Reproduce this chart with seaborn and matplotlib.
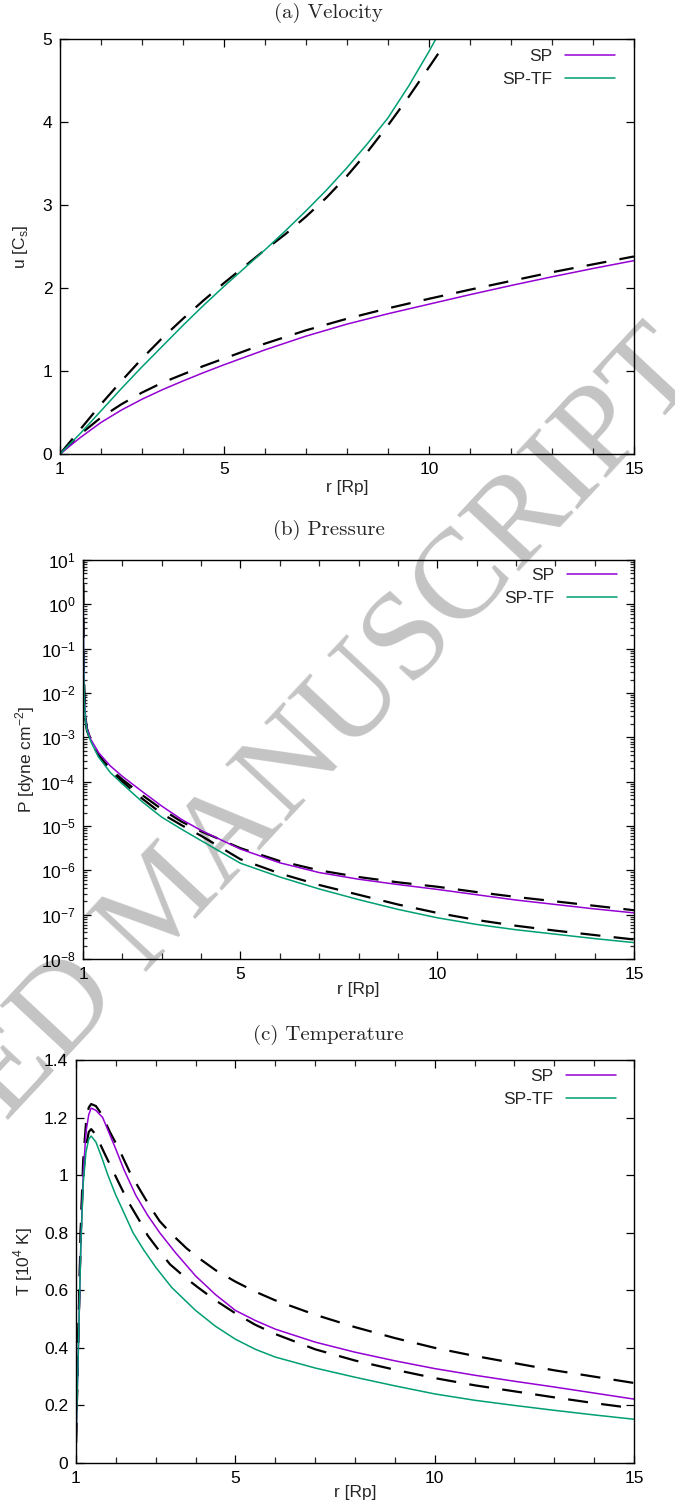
import numpy as np
import pandas as pd
import matplotlib
matplotlib.use("Agg")
import matplotlib.pyplot as plt
import matplotlib.ticker as mticker
import seaborn as sns

# ---- data ----
# (a) velocity u [Cs] vs r [Rp]
r_vel_sp = [1, 1.5, 2, 2.5, 3, 3.5, 4, 4.5, 5, 6, 7, 8, 9, 10, 11, 12, 13, 14, 15]
u_sp = [0, 0.2, 0.38, 0.53, 0.66, 0.775, 0.88, 0.98, 1.075, 1.255, 1.42, 1.565, 1.69, 1.805, 1.92, 2.03,
        2.135, 2.235, 2.33]
u_sp_ref = [0, 0.24, 0.44, 0.6, 0.74, 0.86, 0.96, 1.06, 1.15, 1.33, 1.49, 1.63, 1.755, 1.87, 1.98, 2.085,
            2.19, 2.285, 2.38]
r_vel_tf = [1, 1.5, 2, 2.5, 3, 3.5, 4, 4.5, 5, 5.5, 6, 6.5, 7, 7.5, 8, 8.5, 9, 9.5, 10, 10.5]
u_tf = [0, 0.25, 0.52, 0.79, 1.05, 1.3, 1.55, 1.79, 2.02, 2.24, 2.46, 2.69, 2.93, 3.18, 3.45, 3.74,
        4.05, 4.43, 4.85, 5.3]
r_vel_tf_ref = [1, 1.5, 2, 2.5, 3, 3.5, 4, 4.5, 5, 5.5, 6, 6.5, 7, 7.5, 8, 8.5, 9, 9.5, 10, 10.4]
u_tf_ref = [0, 0.3, 0.6, 0.88, 1.15, 1.4, 1.63, 1.85, 2.06, 2.26, 2.46, 2.65, 2.86, 3.09, 3.35, 3.64,
            3.96, 4.3, 4.66, 4.95]

# (b) pressure, log10(P [dyne cm^-2])
r_pre = [1.0, 1.005, 1.01, 1.02, 1.04, 1.07, 1.1, 1.2, 1.4, 1.7, 2, 2.5, 3, 3.5, 4,
         5, 6, 7, 8, 9, 10, 11, 12, 13, 14, 15]
logp_sp = [1.2, 0.5, -0.5, -1.5, -2.2, -2.6, -2.8, -3.05, -3.35, -3.65, -3.88, -4.22, -4.55, -4.85, -5.1,
           -5.52, -5.83, -6.05, -6.2, -6.32, -6.43, -6.55, -6.67, -6.77, -6.87, -6.96]
logp_sp_ref = [1.2, 0.5, -0.5, -1.5, -2.2, -2.6, -2.8, -3.07, -3.4, -3.72, -3.95, -4.3, -4.62, -4.9, -5.12,
               -5.5, -5.79, -6.0, -6.15, -6.27, -6.37, -6.49, -6.6, -6.7, -6.8, -6.9]
logp_tf = [1.2, 0.4, -0.6, -1.6, -2.3, -2.65, -2.85, -3.1, -3.45, -3.8, -4.05, -4.45, -4.8, -5.07, -5.33,
           -5.84, -6.15, -6.42, -6.66, -6.88, -7.07, -7.22, -7.34, -7.44, -7.54, -7.63]
logp_tf_ref = [1.2, 0.4, -0.6, -1.6, -2.3, -2.65, -2.85, -3.08, -3.42, -3.75, -4.0, -4.38, -4.72, -4.98, -5.22,
               -5.75, -6.07, -6.33, -6.55, -6.77, -6.96, -7.12, -7.25, -7.36, -7.46, -7.56]

# (c) temperature T [10^4 K]
r_tem = [1.0, 1.06, 1.12, 1.18, 1.25, 1.32, 1.38, 1.5, 1.67, 1.85, 2.0, 2.2, 2.5, 2.8, 3.1, 3.5, 4.0, 4.5,
         5, 5.5, 6, 7, 8, 9, 10, 11, 12, 13, 14, 15]
t_sp = [0.07, 0.4, 0.75, 1.0, 1.15, 1.21, 1.233, 1.225, 1.2, 1.14, 1.09, 1.02, 0.93, 0.86, 0.8, 0.73, 0.65, 0.585,
        0.53, 0.495, 0.465, 0.42, 0.385, 0.355, 0.328, 0.305, 0.284, 0.264, 0.243, 0.222]
r_tem_tf = [1.0, 1.06, 1.12, 1.18, 1.25, 1.32, 1.38, 1.5, 1.65, 1.8, 2.0, 2.2, 2.43, 2.7, 3.0, 3.4, 4.0, 4.5,
            5, 5.5, 6, 7, 8, 9, 10, 11, 12, 13, 14, 15]
t_tf = [0.07, 0.4, 0.75, 0.97, 1.08, 1.125, 1.136, 1.115, 1.06, 1.0, 0.93, 0.87, 0.8, 0.74, 0.68, 0.61, 0.53, 0.475,
        0.43, 0.395, 0.368, 0.33, 0.298, 0.268, 0.24, 0.218, 0.2, 0.183, 0.167, 0.152]
r_tem_sp_ref = [1.0, 1.06, 1.12, 1.18, 1.25, 1.32, 1.38, 1.5, 1.65, 1.85, 2.08, 2.35, 2.6, 2.86, 3.1, 3.4, 3.78,
                4.1, 4.5, 5, 5.5, 6, 7, 8, 9, 10, 11, 12, 13, 14, 15]
t_sp_ref = [0.07, 0.45, 0.82, 1.05, 1.18, 1.235, 1.247, 1.24, 1.21, 1.15, 1.09, 1.01, 0.95, 0.89, 0.84, 0.795, 0.745,
            0.71, 0.67, 0.63, 0.595, 0.565, 0.515, 0.472, 0.434, 0.40, 0.372, 0.347, 0.322, 0.30, 0.278]
r_tem_tf_ref = [1.0, 1.06, 1.12, 1.18, 1.25, 1.32, 1.38, 1.5, 1.7, 2.05, 2.3, 2.6, 2.8, 3.1, 3.36, 3.78, 4.06,
                4.5, 5, 5.5, 6, 7, 8, 9, 10, 11, 12, 13, 14, 15]
t_tf_ref = [0.07, 0.45, 0.8, 1.0, 1.1, 1.15, 1.16, 1.14, 1.08, 0.98, 0.91, 0.84, 0.79, 0.735, 0.69, 0.64, 0.61,
            0.565, 0.52, 0.48, 0.448, 0.395, 0.356, 0.324, 0.295, 0.27, 0.249, 0.228, 0.208, 0.19]

x_ticks = [1, 5, 10, 15]
labels = ["SP", "SP-TF"]
titles = ["(a) Velocity", "(b) Pressure", "(c) Temperature"]

# ---- style ----
sns.set_style("ticks")
plt.rcParams["font.family"] = ["Liberation Sans", "DejaVu Sans"]
plt.rcParams["axes.unicode_minus"] = False
plt.rcParams["mathtext.fontset"] = "custom"
plt.rcParams["mathtext.rm"] = "Liberation Sans"

purple = "#9400d3"
green = "#009e73"
dash = (0, (9, 6))
fs = 12.5

W, H = 675, 1508
fig = plt.figure(figsize=(W / 100, H / 100), dpi=100)


def add_axes(left, top, right, bottom):
    return fig.add_axes([left / W, 1 - bottom / H, (right - left) / W, (bottom - top) / H])


ax_a = add_axes(60, 39, 634, 454)
ax_b = add_axes(83, 560, 634, 959)
ax_c = add_axes(76, 1060, 634, 1463)

# (a)
sns.lineplot(x=r_vel_sp, y=u_sp_ref, color="black", linewidth=1.6, linestyle=dash, estimator=None, ax=ax_a)
sns.lineplot(x=r_vel_tf_ref, y=u_tf_ref, color="black", linewidth=1.6, linestyle=dash, estimator=None, ax=ax_a)
sns.lineplot(x=r_vel_sp, y=u_sp, color=purple, linewidth=1.1, estimator=None, ax=ax_a, label=labels[0])
sns.lineplot(x=r_vel_tf, y=u_tf, color=green, linewidth=1.1, estimator=None, ax=ax_a, label=labels[1])
ax_a.set_ylim(0, 5)
ax_a.set_yticks(range(0, 6))
ax_a.set_ylabel("u [C$_\\mathregular{s}$]", fontsize=fs)

# (b)
pre = pd.DataFrame({"r": r_pre, "sp": np.power(10.0, logp_sp), "sp_ref": np.power(10.0, logp_sp_ref),
                    "tf": np.power(10.0, logp_tf), "tf_ref": np.power(10.0, logp_tf_ref)})
ax_b.set_yscale("log")
sns.lineplot(data=pre, x="r", y="sp_ref", color="black", linewidth=1.6, linestyle=dash, estimator=None, ax=ax_b)
sns.lineplot(data=pre, x="r", y="tf_ref", color="black", linewidth=1.6, linestyle=dash, estimator=None, ax=ax_b)
sns.lineplot(data=pre, x="r", y="sp", color=purple, linewidth=1.1, estimator=None, ax=ax_b, label=labels[0])
sns.lineplot(data=pre, x="r", y="tf", color=green, linewidth=1.1, estimator=None, ax=ax_b, label=labels[1])
ax_b.set_ylim(1e-8, 1e1)
ax_b.yaxis.set_major_locator(mticker.LogLocator(base=10, numticks=20))
ax_b.yaxis.set_minor_locator(mticker.LogLocator(base=10, subs=(2, 3, 4, 5, 6, 7, 8, 9), numticks=20))
ax_b.yaxis.set_minor_formatter(mticker.NullFormatter())
ax_b.set_ylabel("P [dyne cm$^\\mathregular{-2}$]", fontsize=fs)

# (c)
sns.lineplot(x=r_tem_sp_ref, y=t_sp_ref, color="black", linewidth=1.6, linestyle=dash, estimator=None, ax=ax_c)
sns.lineplot(x=r_tem_tf_ref, y=t_tf_ref, color="black", linewidth=1.6, linestyle=dash, estimator=None, ax=ax_c)
sns.lineplot(x=r_tem, y=t_sp, color=purple, linewidth=1.1, estimator=None, ax=ax_c, label=labels[0])
sns.lineplot(x=r_tem_tf, y=t_tf, color=green, linewidth=1.1, estimator=None, ax=ax_c, label=labels[1])
ax_c.set_ylim(0, 1.4)
ax_c.set_yticks(np.arange(0, 1.41, 0.2))
ax_c.yaxis.set_major_formatter(mticker.FuncFormatter(lambda v, p: f"{v:g}"))
ax_c.set_ylabel("T [10$^\\mathregular{4}$ K]", fontsize=fs)

axes = [ax_a, ax_b, ax_c]
ylab_x = [-0.052, -0.083, -0.073]
xlab_gap = [26, 23, 22]
leg_anchor = [(0.967, 0.976), (0.969, 0.98), (0.968, 0.978)]
title_y = [13, 530, 1035]

for i, ax in enumerate(axes):
    ax.set_xlim(1, 15)
    ax.set_xticks(x_ticks)
    ax.xaxis.set_minor_locator(mticker.FixedLocator([v for v in range(2, 15) if v not in x_ticks]))
    ax.set_xlabel("r [Rp]", fontsize=fs)
    ax.patch.set_alpha(0)
    for s in ax.spines.values():
        s.set_linewidth(1.0)
        s.set_color("black")
    ax.tick_params(which="major", direction="in", top=True, right=True, length=6, width=0.9,
                   labelsize=fs, pad=5.5, colors="black")
    ax.tick_params(which="minor", direction="in", top=True, right=True, length=4.5, width=0.9)
    ax.tick_params(axis="y", which="minor", length=3)
    bh = ax.get_position().height * H
    ax.xaxis.set_label_coords(0.5, -xlab_gap[i] / bh)
    ax.yaxis.set_label_coords(ylab_x[i], 0.5)
    ax.legend(loc="upper right", bbox_to_anchor=leg_anchor[i], frameon=False, markerfirst=False,
              fontsize=fs, handlelength=2.9, handletextpad=0.7, labelspacing=0.45,
              borderpad=0, borderaxespad=0)
    fig.text(0.487, 1 - title_y[i] / H, titles[i], ha="center", va="center",
             fontsize=15, family="cmr10")

# watermark (cut off at the page edge, as in the reference)
fig.text(166 / W, 1 - 905 / H, "ACCEPTED MANUSCRIPT", rotation=47, rotation_mode="anchor",
         ha="center", va="center", fontsize=92, family="Liberation Serif", color="#c4c4c4", zorder=-5)

fig.savefig("out.png", dpi=100)
